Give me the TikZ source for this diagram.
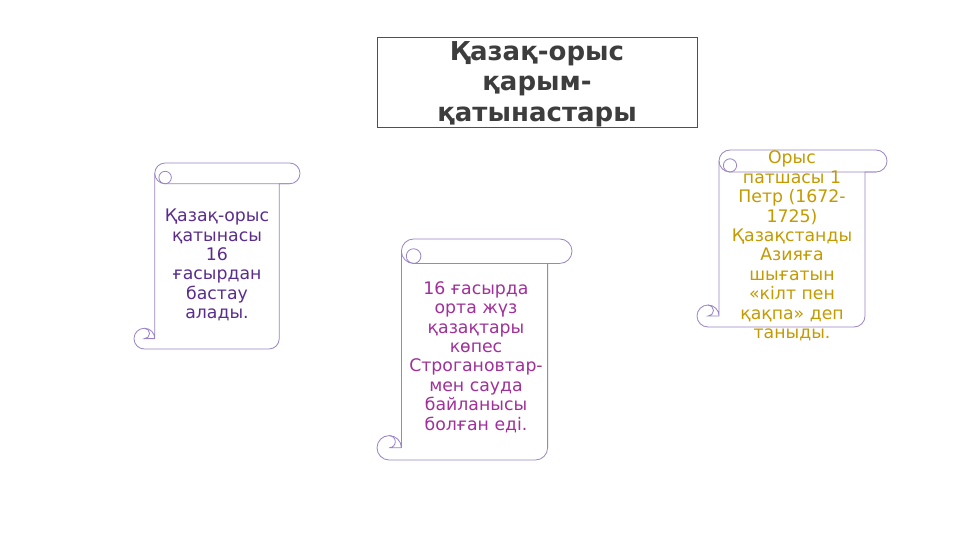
\documentclass[tikz,border=0pt]{standalone}
\usepackage{fontspec}
\setmainfont{DejaVu Sans}
\usepackage{xcolor}
\usepackage{tikz}

\definecolor{titlegray}{HTML}{3D3D3D}
\definecolor{titleframe}{HTML}{54457A}
\definecolor{rollpurple}{HTML}{9A83C6}
\definecolor{textpurple}{HTML}{5A2D8C}
\definecolor{textmagenta}{HTML}{A0309A}
\definecolor{textgold}{HTML}{C49A00}

\tikzset{
	rollline/.style={draw=rollpurple,line width=0.8pt,fill=white},
	rolltext/.style={align=center,inner sep=0pt,
		font=\fontsize{17.3}{19.4}\selectfont},
	titlebox/.style={draw=titleframe,line width=0.8pt,
		minimum width=320pt,minimum height=90pt,inner sep=0pt,align=center,
		text=titlegray,font=\fontsize{26}{30.5}\selectfont\bfseries}
}

% scroll outline: left, top, right, bottom, roll height
\newcommand{\scrollbox}[5]{%
	\pgfmathsetmacro\rh{#5/2}%
	\pgfmathsetmacro\rq{#5/4}%
	\draw[rollline] ({#1+1.5*#5},#2) -- ({#3-\rh},#2)
		arc[start angle=-90,end angle=90,radius=\rh]
		-- ({#3-#5},{#2+#5}) -- ({#3-#5},{#4-\rh})
		arc[start angle=0,end angle=90,radius=\rh]
		-- ({#1+\rh},#4)
		arc[start angle=90,end angle=360,radius=\rh]
		-- ({#1+#5},{#2+\rh})
		arc[start angle=180,end angle=270,radius=\rh] -- cycle;
	\draw[rollline,fill=none] ({#1+#5},{#2+\rh})
		arc[start angle=180,end angle=90,radius=\rh] -- ({#3-\rh},{#2+#5});
	\draw[rollline,fill=none] ({#1+1.5*#5},{#2+0.7*#5}) circle[radius=0.3*#5];
	\draw[rollline,fill=none] ({#1+\rh},{#4-#5})
		arc[start angle=-90,end angle=90,radius=\rq] -- ({#1+#5},{#4-\rh});
}

\begin{document}
\begin{tikzpicture}[x=1pt,y=1pt,yscale=-1]
	\fill[white] (0,0) rectangle (960,540);
	\useasboundingbox (0,0) rectangle (960,540);
	%
	\node[titlebox] (T) at (537,82) {};
	\node[text=titlegray,font=\fontsize{26}{30.5}\selectfont\bfseries,
		align=center,inner sep=0pt] (TT) at (537,84) {Қазақ-орыс\\қарым-\\қатынастары};
	%
	\scrollbox{134}{163}{300}{349}{20.75}
	\scrollbox{377}{239}{572}{460}{24.4}
	\scrollbox{697}{150}{887}{327}{22}
	%
	\node[rolltext,text=textpurple] (S1) at (217,265)
		{Қазақ-орыс\\қатынасы\\16\\ғасырдан\\бастау\\алады.};
	\node[rolltext,text=textmagenta] (S2) at (476,357)
		{16 ғасырда\\орта жүз\\қазақтары\\көпес\\Строгановтар-\\мен сауда\\байланысы\\болған еді.};
	\node[rolltext,text=textgold] (S3) at (792,246)
		{Орыс\\патшасы 1\\Петр (1672-\\1725)\\Қазақстанды\\Азияға\\шығатын\\«кілт пен\\қақпа» деп\\таныды.};
\end{tikzpicture}
\end{document}
